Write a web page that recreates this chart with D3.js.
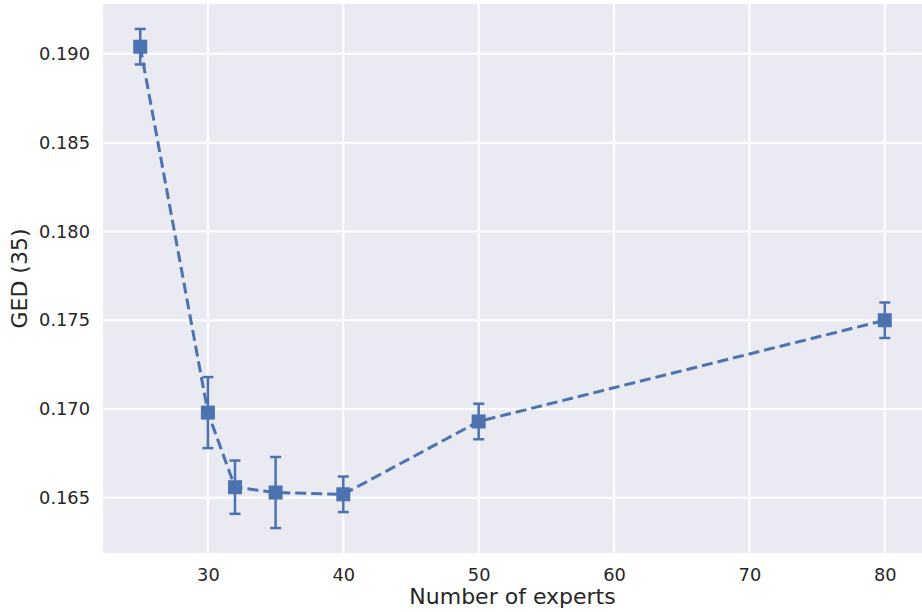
<!DOCTYPE html>
<html>
<head>
<meta charset="utf-8">
<script src="https://cdn.jsdelivr.net/npm/d3@7"></script>
<style>
  body { margin: 0; background: #fff; }
  svg { display: block; font-family: "DejaVu Sans", sans-serif; }
</style>
</head>
<body>
<div id="chart"></div>
<script>
// data
let experts = [25, 30, 32, 35, 40, 50, 80];
let gedMean = [0.1904, 0.1698, 0.1656, 0.1653, 0.1652, 0.1693, 0.1750];
let gedErr  = [0.0010, 0.0020, 0.0015, 0.0020, 0.0010, 0.0010, 0.0010];
let xTicks = [30, 40, 50, 60, 70, 80];
let yTicks = [0.165, 0.170, 0.175, 0.180, 0.185, 0.190];

let W = 922, H = 612;
let margin = { top: 4, right: 0, bottom: 59, left: 103 };
let width = W - margin.left - margin.right;
let height = H - margin.top - margin.bottom;

let points = experts.map(function (d, i) {
    return { x: d, y: gedMean[i], e: gedErr[i] };
});

let svg = d3.select("#chart").append("svg")
    .attr("width", W)
    .attr("height", H);

let g = svg.append("g")
    .attr("transform", "translate(" + margin.left + "," + margin.top + ")");

// matplotlib style 5% padding
let xMin = d3.min(experts), xMax = d3.max(experts);
let xPad = (xMax - xMin) * 0.05;
let yLo = d3.min(points, function (d) { return d.y - d.e; });
let yHi = d3.max(points, function (d) { return d.y + d.e; });
let yPad = (yHi - yLo) * 0.05;

let x = d3.scaleLinear().domain([xMin - xPad, xMax + xPad]).range([0, width]);
let y = d3.scaleLinear().domain([yLo - yPad, yHi + yPad]).range([height, 0]);

g.append("rect")
    .attr("width", width)
    .attr("height", height)
    .attr("fill", "#eaeaf2");

// grid
g.append("g").selectAll("line").data(xTicks).enter().append("line")
    .attr("x1", function (d) { return x(d); })
    .attr("x2", function (d) { return x(d); })
    .attr("y1", 0).attr("y2", height)
    .attr("stroke", "#fff").attr("stroke-width", 2);

g.append("g").selectAll("line").data(yTicks).enter().append("line")
    .attr("y1", function (d) { return y(d); })
    .attr("y2", function (d) { return y(d); })
    .attr("x1", 0).attr("x2", width)
    .attr("stroke", "#fff").attr("stroke-width", 2);

// axes (labels only, seaborn darkgrid has no ticks)
let xAxis = g.append("g")
    .attr("transform", "translate(0," + height + ")")
    .call(d3.axisBottom(x).tickValues(xTicks).tickSize(0).tickPadding(15.5));
let yAxis = g.append("g")
    .call(d3.axisLeft(y).tickValues(yTicks).tickSize(0).tickPadding(13).tickFormat(d3.format(".3f")));

[xAxis, yAxis].forEach(function (a) {
    a.select(".domain").remove();
    a.selectAll("text")
        .attr("fill", "#262626")
        .style("font-family", "'DejaVu Sans', sans-serif")
        .style("font-size", "17.8px");
});

svg.append("text")
    .attr("x", margin.left + width / 2)
    .attr("y", 604)
    .attr("text-anchor", "middle")
    .attr("fill", "#262626")
    .style("font-size", "22px")
    .text("Number of experts");

svg.append("text")
    .attr("transform", "translate(27," + (margin.top + height / 2) + ") rotate(-90)")
    .attr("text-anchor", "middle")
    .attr("fill", "#262626")
    .style("font-size", "22px")
    .text("GED (35)");

let colour = "#4c72b0";

// dashed line
let line = d3.line()
    .x(function (d) { return x(d.x); })
    .y(function (d) { return y(d.y); });

g.append("path")
    .datum(points)
    .attr("d", line)
    .attr("fill", "none")
    .attr("stroke", colour)
    .attr("stroke-width", 3)
    .attr("stroke-dasharray", "11,5");

// error bars
let err = g.append("g").selectAll("g").data(points).enter().append("g")
    .attr("stroke", colour)
    .attr("stroke-width", 2.5);

err.append("line")
    .attr("x1", function (d) { return x(d.x); })
    .attr("x2", function (d) { return x(d.x); })
    .attr("y1", function (d) { return y(d.y - d.e); })
    .attr("y2", function (d) { return y(d.y + d.e); });

[-1, 1].forEach(function (s) {
    err.append("line")
        .attr("x1", function (d) { return x(d.x) - 5.5; })
        .attr("x2", function (d) { return x(d.x) + 5.5; })
        .attr("y1", function (d) { return y(d.y + s * d.e); })
        .attr("y2", function (d) { return y(d.y + s * d.e); });
});

// square markers
g.append("g").selectAll("rect").data(points).enter().append("rect")
    .attr("x", function (d) { return x(d.x) - 7; })
    .attr("y", function (d) { return y(d.y) - 7; })
    .attr("width", 14)
    .attr("height", 14)
    .attr("fill", colour);
</script>
</body>
</html>
